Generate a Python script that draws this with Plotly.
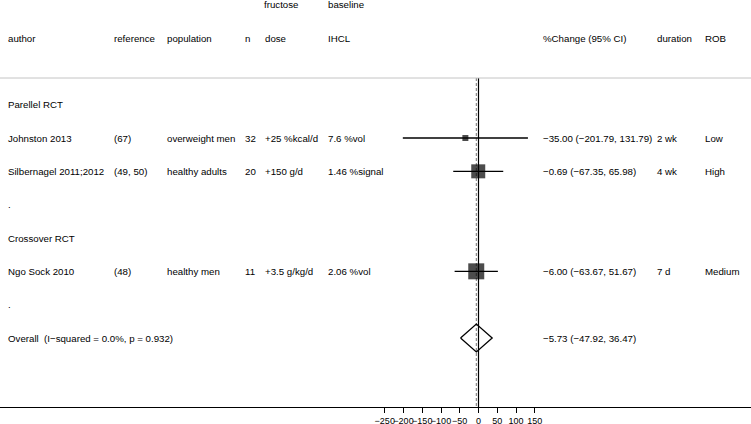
import plotly.graph_objects as go

# ---- data ----
row_labels = ["Parellel RCT", "Johnston 2013", "Silbernagel 2011;2012", ".", "Crossover RCT",
              "Ngo Sock 2010", ".", "Overall  (I\u2212squared = 0.0%, p = 0.932)"]
row_pos = [3, 4, 5, 6, 7, 8, 9, 10]

study_names = ["Johnston 2013", "Silbernagel 2011;2012", "Ngo Sock 2010"]
study_rows = [4, 5, 8]
references = ["(67)", "(49, 50)", "(48)"]
populations = ["overweight men", "healthy adults", "healthy men"]
n_vals = ["32", "20", "11"]
doses = ["+25 %kcal/d", "+150 g/d", "+3.5 g/kg/d"]
baselines = ["7.6 %vol", "1.46 %signal", "2.06 %vol"]
est = [-35.00, -0.69, -6.00]
lo = [-201.79, -67.35, -63.67]
hi = [131.79, 65.98, 51.67]
durations = ["2 wk", "4 wk", "7 d"]
robs = ["Low", "High", "Medium"]
box_sizes = [6, 14, 16]

overall_row = 10
overall_est = -5.73
overall_lo = -47.92
overall_hi = 36.47

tick_vals = [-250, -200, -150, -100, -50, 0, 50, 100, 150]

# ---- layout helpers ----
W, H = 751, 424
FONT = "Liberation Sans, Arial, Helvetica, sans-serif"
FS = 9.7

def fmt(v):
    return f"{v:.2f}".replace("-", "\u2212")

fig = go.Figure()

# CI lines
for r, l, h in zip(study_rows, lo, hi):
    fig.add_trace(go.Scatter(x=[l, h], y=[r, r], mode="lines",
                             line=dict(color="black", width=1.3),
                             hoverinfo="skip", showlegend=False))
# boxes
fig.add_trace(go.Scatter(x=est, y=study_rows, mode="markers",
                         marker=dict(symbol="square", size=box_sizes, color="black",
                                     line=dict(width=0)),
                         hoverinfo="skip", showlegend=False))
# diamond
dh = 0.42
fig.add_trace(go.Scatter(
    x=[overall_lo, overall_est, overall_hi, overall_est, overall_lo],
    y=[overall_row, overall_row - dh, overall_row, overall_row + dh, overall_row],
    mode="lines", line=dict(color="black", width=1.3),
    hoverinfo="skip", showlegend=False))

y_top_line = 2.2
y_bottom = 12.07

shapes = [
    dict(type="line", xref="paper", yref="y", x0=0, x1=1, y0=y_top_line, y1=y_top_line,
         line=dict(color="#c4c4c4", width=1)),
    dict(type="line", xref="x", yref="y", x0=0, x1=0, y0=y_top_line, y1=y_bottom,
         line=dict(color="black", width=1.2), layer="below"),
    dict(type="line", xref="x", yref="y", x0=overall_est, x1=overall_est, y0=y_top_line, y1=y_bottom,
         line=dict(color="#8a8a8a", width=1.2, dash="3px,2px"), layer="below"),
]

ann = []
def txt(px, row, s):
    ann.append(dict(x=(px - 2) / W, xref="paper", y=row, yref="y", text=s, showarrow=False,
                    xanchor="left", yanchor="middle",
                    font=dict(family=FONT, size=FS, color="black")))

# headers
txt(264, 0, "fructose")
txt(328, 0, "baseline")
for px, s in [(8, "author"), (114, "reference"), (167, "population"), (245, "n"),
              (265, "dose"), (328, "IHCL"), (543, "%Change (95% CI)"),
              (657, "duration"), (705, "ROB")]:
    txt(px, 1, s)

for r, s in zip(row_pos, row_labels):
    if s in study_names:
        continue
    txt(8, r, s)

for i, r in enumerate(study_rows):
    txt(8, r, study_names[i])
    txt(114, r, references[i])
    txt(167, r, populations[i])
    txt(245, r, n_vals[i])
    txt(265, r, doses[i])
    txt(328, r, baselines[i])
    txt(543, r, f"{fmt(est[i])} ({fmt(lo[i])}, {fmt(hi[i])})")
    txt(657, r, durations[i])
    txt(705, r, robs[i])

txt(543, overall_row, f"{fmt(overall_est)} ({fmt(overall_lo)}, {fmt(overall_hi)})")

zero_px = 478.5
scale = 0.375
x_range = [(0 - zero_px) / scale, (W - zero_px) / scale]

fig.update_layout(
    width=W, height=H,
    margin=dict(l=0, r=0, t=0, b=17, pad=0, autoexpand=False),
    paper_bgcolor="white", plot_bgcolor="white",
    shapes=shapes, annotations=ann,
    xaxis=dict(range=x_range, showgrid=False, zeroline=False, showline=True,
               linecolor="black", linewidth=1, ticks="outside", ticklen=5,
               tickcolor="black", tickwidth=1, tickvals=tick_vals, tickangle=0,
               ticktext=[str(v).replace("-", "\u2212") for v in tick_vals],
               tickfont=dict(family=FONT, size=9, color="black"), fixedrange=True,
               automargin=False),
    yaxis=dict(range=[y_bottom, -0.14], showgrid=False, zeroline=False, showline=False,
               showticklabels=False, ticks="", fixedrange=True, automargin=False),
    showlegend=False,
)

fig.write_html("out.html", config=dict(displayModeBar=False),
               post_script="document.body.style.margin='0';document.body.style.padding='0';")
